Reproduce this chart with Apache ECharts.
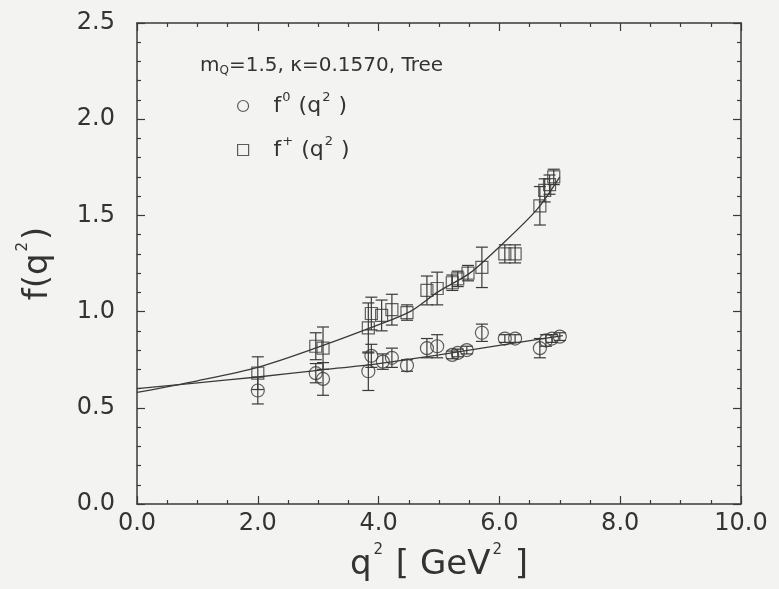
<!DOCTYPE html>
<html><head><meta charset="utf-8">
<script src="https://cdn.jsdelivr.net/npm/echarts@6/dist/echarts.min.js"></script>
<style>html,body{margin:0;padding:0;background:#f3f3f1;}#c{width:779px;height:589px;}</style>
</head><body><div id="c"></div>
<script>
// f0(q^2) data (circles)
const f0Q2  = [2.00, 2.96, 3.08, 3.83, 3.88, 4.07, 4.22, 4.47, 4.80, 4.97, 5.22, 5.31, 5.46, 5.71, 6.09, 6.26, 6.67, 6.77, 6.87, 7.00];
const f0Val = [0.59, 0.68, 0.65, 0.69, 0.77, 0.74, 0.76, 0.72, 0.81, 0.82, 0.775, 0.785, 0.80, 0.89, 0.86, 0.86, 0.81, 0.85, 0.86, 0.87];
const f0Err = [0.07, 0.05, 0.085, 0.10, 0.06, 0.04, 0.05, 0.03, 0.05, 0.06, 0.02, 0.02, 0.02, 0.045, 0.02, 0.02, 0.05, 0.03, 0.02, 0.02];
// f+(q^2) data (squares)
const fpQ2  = [2.00, 2.96, 3.08, 3.83, 3.88, 4.05, 4.22, 4.47, 4.80, 4.97, 5.22, 5.31, 5.48, 5.71, 6.09, 6.26, 6.67, 6.75, 6.83, 6.90];
const fpVal = [0.68, 0.82, 0.81, 0.915, 0.99, 0.98, 1.01, 0.995, 1.11, 1.12, 1.15, 1.17, 1.20, 1.23, 1.30, 1.30, 1.55, 1.63, 1.66, 1.70];
const fpErr = [0.085, 0.07, 0.11, 0.13, 0.085, 0.08, 0.08, 0.04, 0.075, 0.085, 0.04, 0.04, 0.04, 0.105, 0.047, 0.047, 0.10, 0.06, 0.05, 0.04];
// fit curves
const f0FitQ2 = [0, 1, 2, 3, 4, 5, 6, 7.05];
const f0Fit   = [0.60, 0.63, 0.66, 0.695, 0.73, 0.775, 0.825, 0.875];
const fpFitQ2 = [0, 1, 2, 3, 3.86, 4.52, 4.97, 5.51, 6.01, 6.62, 7.0];
const fpFit   = [0.58, 0.64, 0.71, 0.815, 0.915, 1.00, 1.10, 1.20, 1.34, 1.53, 1.70];
// axis ticks
const xTicks = {min: 0, max: 10, interval: 2};
const yTicks = {min: 0, max: 2.5, interval: 0.5};

const INK = '#333333';
const FONT = 'DejaVu Sans';

function errRender(params, api) {
  const x = api.value(0), y = api.value(1), e = api.value(2);
  const t = api.coord([x, y + e]), b = api.coord([x, y - e]);
  const w = 6;
  const st = {stroke: '#3a3a3a', lineWidth: 1.2};
  return {type: 'group', children: [
    {type: 'line', shape: {x1: t[0], y1: t[1], x2: b[0], y2: b[1]}, style: st},
    {type: 'line', shape: {x1: t[0] - w, y1: t[1], x2: t[0] + w, y2: t[1]}, style: st},
    {type: 'line', shape: {x1: b[0] - w, y1: b[1], x2: b[0] + w, y2: b[1]}, style: st}
  ]};
}

const axisCommon = {
  axisLine: {show: true, onZero: false, lineStyle: {color: '#3a3a3a', width: 1.5}},
  axisTick: {show: true, inside: true, length: 8, lineStyle: {color: '#3a3a3a', width: 1.2}},
  minorTick: {show: true, length: 4, lineStyle: {color: '#3a3a3a', width: 1.2}},
  splitLine: {show: false}
};

const bigRich = {
  a: {fontSize: 34, fontFamily: FONT, color: INK},
  s: {fontSize: 15, fontFamily: FONT, color: INK, verticalAlign: 'top', padding: [0, 2, 30, 2]}
};

const option = {
  backgroundColor: '#f3f3f1',
  animation: false,
  title: {
    text: '{a|m}{s|Q}{a|=1.5, κ=0.1570, Tree}',
    left: 195, top: 50,
    textStyle: {
      fontWeight: 'normal',
      rich: {
        a: {fontSize: 20, fontFamily: FONT, color: INK, fontWeight: 'normal'},
        s: {fontSize: 12, fontFamily: FONT, color: INK, fontWeight: 'normal', verticalAlign: 'bottom', padding: [10, 0, 0, 0]}
      }
    }
  },
  legend: {
    orient: 'vertical', left: 232, top: 86, itemGap: 18,
    itemWidth: 11, itemHeight: 11,
    data: [
      {name: 'f0', icon: 'circle', itemStyle: {color: 'transparent', borderColor: INK, borderWidth: 1.2}},
      {name: 'fp', icon: 'rect', itemStyle: {color: 'transparent', borderColor: INK, borderWidth: 1.2}}
    ],
    formatter: n => n === 'f0' ? '{m|f}{s|0}{m| (q}{s|2}{m| )}' : '{m|f}{s|+}{m| (q}{s|2}{m| )}',
    textStyle: {
      rich: {
        m: {fontSize: 22, fontFamily: FONT, color: INK},
        s: {fontSize: 13, fontFamily: FONT, color: INK, verticalAlign: 'top', padding: [0, 1, 17, 1]}
      },
      padding: [0, 0, 0, 20]
    }
  },
  grid: {left: 137, right: 38, top: 23, bottom: 85, containLabel: false, outerBoundsMode: 'none'},
  xAxis: [
    Object.assign({type: 'value', position: 'bottom', min: xTicks.min, max: xTicks.max, interval: xTicks.interval,
      minorTick: Object.assign({}, axisCommon.minorTick, {splitNumber: 4}),
      axisLabel: {formatter: v => v.toFixed(1), fontSize: 24, fontFamily: FONT, color: INK, margin: 8},
      name: '{a|q}{s|2}{a| [ GeV}{s|2}{a| ]}', nameLocation: 'middle', nameGap: 39,
      nameTextStyle: {rich: bigRich}
    }, {axisLine: axisCommon.axisLine, axisTick: axisCommon.axisTick, splitLine: axisCommon.splitLine}),
    Object.assign({type: 'value', position: 'top', min: xTicks.min, max: xTicks.max, interval: xTicks.interval,
      minorTick: Object.assign({}, axisCommon.minorTick, {splitNumber: 4}),
      axisLabel: {show: false}
    }, {axisLine: axisCommon.axisLine, axisTick: axisCommon.axisTick, splitLine: axisCommon.splitLine})
  ],
  yAxis: [
    Object.assign({type: 'value', position: 'left', min: yTicks.min, max: yTicks.max, interval: yTicks.interval,
      minorTick: Object.assign({}, axisCommon.minorTick, {splitNumber: 5}),
      axisLabel: {formatter: v => v.toFixed(1), fontSize: 24, fontFamily: FONT, color: INK, margin: 22},
      name: '{a|f(q}{s|2}{a|)}', nameLocation: 'middle', nameGap: 76,
      nameTextStyle: {rich: bigRich}
    }, {axisLine: axisCommon.axisLine, axisTick: axisCommon.axisTick, splitLine: axisCommon.splitLine}),
    Object.assign({type: 'value', position: 'right', min: yTicks.min, max: yTicks.max, interval: yTicks.interval,
      minorTick: Object.assign({}, axisCommon.minorTick, {splitNumber: 5}),
      axisLabel: {show: false}
    }, {axisLine: axisCommon.axisLine, axisTick: axisCommon.axisTick, splitLine: axisCommon.splitLine})
  ],
  series: [
    {name: 'f0fit', type: 'line', smooth: 0.3, symbol: 'none', data: f0FitQ2.map((q, i) => [q, f0Fit[i]]),
      lineStyle: {color: '#3a3a3a', width: 1.3}, z: 2},
    {name: 'fpfit', type: 'line', smooth: 0.3, symbol: 'none', data: fpFitQ2.map((q, i) => [q, fpFit[i]]),
      lineStyle: {color: '#3a3a3a', width: 1.3}, z: 2},
    {name: 'f0err', type: 'custom', renderItem: errRender, data: f0Q2.map((q, i) => [q, f0Val[i], f0Err[i]]),
      encode: {x: 0, y: 1}, z: 3},
    {name: 'fperr', type: 'custom', renderItem: errRender, data: fpQ2.map((q, i) => [q, fpVal[i], fpErr[i]]),
      encode: {x: 0, y: 1}, z: 3},
    {name: 'f0', type: 'scatter', symbol: 'circle', symbolSize: 13, data: f0Q2.map((q, i) => [q, f0Val[i]]),
      itemStyle: {color: 'transparent', borderColor: '#3a3a3a', borderWidth: 1.2}, z: 4},
    {name: 'fp', type: 'scatter', symbol: 'rect', symbolSize: 12, data: fpQ2.map((q, i) => [q, fpVal[i]]),
      itemStyle: {color: 'transparent', borderColor: '#3a3a3a', borderWidth: 1.2}, z: 4}
  ]
};
const chart = echarts.init(document.getElementById('c'), null, {renderer: 'canvas'});
chart.setOption(option);
</script>
</body></html>
